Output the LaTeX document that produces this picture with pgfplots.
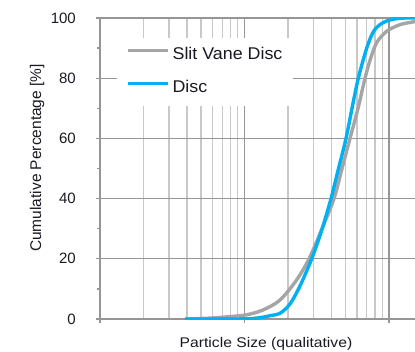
\documentclass[border=0pt]{standalone}
\usepackage{fontspec}
\setmainfont{Liberation Sans}
\usepackage{graphicx}
\usepackage{pgfplots}
\pgfplotsset{compat=1.18}
\definecolor{gridmaj}{RGB}{150,150,150}
\definecolor{gridmin}{RGB}{200,200,200}
\definecolor{curvegray}{RGB}{165,165,165}
\definecolor{curveblue}{RGB}{0,176,240}
\definecolor{txt}{RGB}{25,25,35}
\pgfplotstableread{
x y
3.875 0
5.77 0.3
7.94 0.8
10.36 1.4
13.43 3.0
17.61 6.3
22.97 13.0
27.95 20.0
34.38 30.0
41.64 40.0
47.29 50.0
53.72 60.0
61.02 70.0
68.23 80.0
75.07 87.0
82.60 92.0
96.41 95.6
119.2 97.8
151.3 98.8
}\slitvane
\pgfplotstableread{
x y
3.875 0
7.94 0
10.92 0.1
13.43 0.6
15.02 1.1
17.61 1.9
20.65 5.0
24.22 11.0
29.18 20.0
34.22 29.5
39.68 40.0
44.73 50.0
50.40 60.0
55.45 70.0
61.32 80.0
70.10 90.0
77.88 95.4
86.61 97.8
96.41 99.0
110.0 99.7
129.0 100
151.3 100
}\disc
\begin{document}
\begin{tikzpicture}[x=1pt,y=1pt]
\useasboundingbox (0,0) rectangle (415,351);
\begin{axis}[
  at={(100pt,32pt)}, anchor=south west,
  scale only axis, width=315pt, height=301pt,
  xmode=log, xmin=1, xmax=151.3, ymin=0, ymax=100,
  axis lines*=left,
  axis line style={draw=gridmaj, line width=1.2pt, -},
  xtick={1,10,100}, xticklabels={},
  minor xtick={2,3,4,5,6,7,8,9,20,30,40,50,60,70,80,90},
  ytick={0,20,40,60,80,100},
  minor ytick={10,30,50,70,90},
  xmajorgrids, xminorgrids, ymajorgrids,
  major grid style={draw=gridmaj, line width=1.2pt},
  minor grid style={draw=gridmin, line width=1.2pt},
  tick align=outside, major tick length=4pt, minor tick length=3pt,
  every tick/.style={draw=gridmaj, line width=1.2pt},
  minor x tick style={draw=none},
  /pgf/number format/assume math mode=true,
  tick label style={font=\fontsize{15}{18}\selectfont, text=txt},
  yticklabel style={anchor=east, inner sep=0pt, xshift=-20pt},
  xlabel={\scalebox{1.12}[1]{Particle Size (qualitative)}},
  xlabel style={at={(axis description cs:0.527,-0.0960)}, anchor=base, inner sep=0pt,
    font=\fontsize{14}{17}\selectfont, text=txt},
  ylabel={Cumulative Percentage [\%]},
  ylabel style={at={(axis description cs:-0.2,0.535)}, anchor=center, inner sep=0pt,
    font=\fontsize{15.5}{18}\selectfont, text=txt},
  legend style={at={(axis description cs:0.054,0.935)}, anchor=north west,
    draw=none, fill=white, inner xsep=9pt, inner ysep=8pt,
    font=\fontsize{17}{20}\selectfont, text=txt,
    nodes={inner sep=2pt, text height=12pt, text depth=3pt},
    row sep=14pt, column sep=1pt},
  legend cell align=left,
  legend image code/.code={\draw[#1] (0pt,4.5pt) -- (40pt,4.5pt);},
]
\addplot[curvegray, line width=3.4pt, smooth] table {\slitvane};
\addlegendentry{\scalebox{1.05}[1]{Slit Vane Disc}\hspace{44pt}}
\addplot[curveblue, line width=3.4pt, smooth] table {\disc};
\addlegendentry{\scalebox{1.05}[1]{Disc}}
\end{axis}
\end{tikzpicture}
\end{document}
